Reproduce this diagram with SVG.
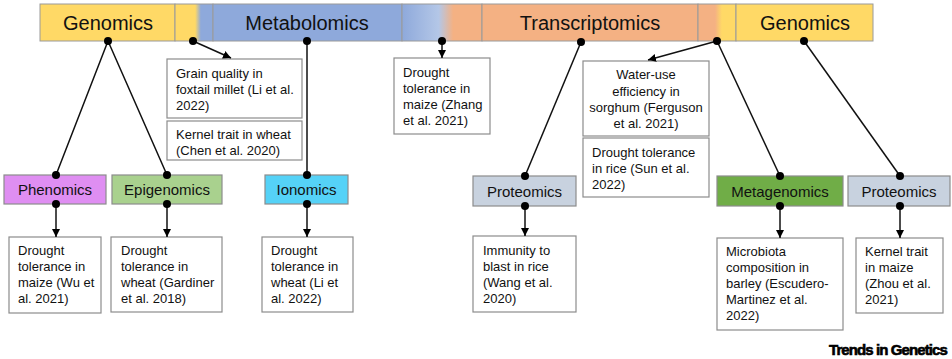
<svg xmlns="http://www.w3.org/2000/svg" width="952" height="359" viewBox="0 0 952 359">
<defs>
<style>
.bar{stroke:#9a9a9a;stroke-width:1}
.top{font-family:"Liberation Sans",Arial,sans-serif;font-size:20px;fill:#111;text-anchor:middle}
.hdr{font-family:"Liberation Sans",Arial,sans-serif;font-size:15px;fill:#111;text-anchor:middle}
.hbox{stroke:#8c8c8c;stroke-width:1.2}
.box{fill:#fff;stroke:#8c8c8c;stroke-width:1.2}
.t{font-family:"Liberation Sans",Arial,sans-serif;font-size:13px;fill:#111}
.c{text-anchor:middle}
.ln{stroke:#111;stroke-width:1.5;fill:none}
.dot{fill:#000}
</style>
<linearGradient id="g1" x1="0" y1="0" x2="1" y2="0">
<stop offset="0" stop-color="#FFD966"/><stop offset="0.53" stop-color="#FFD966"/><stop offset="0.68" stop-color="#8EA9DB"/><stop offset="1" stop-color="#8EA9DB"/>
</linearGradient>
<linearGradient id="g2" x1="0" y1="0" x2="1" y2="0">
<stop offset="0" stop-color="#8EA9DB"/><stop offset="0.46" stop-color="#B4C7E7"/><stop offset="0.64" stop-color="#F4B183"/><stop offset="1" stop-color="#F4B183"/>
</linearGradient>
<linearGradient id="g3" x1="0" y1="0" x2="1" y2="0">
<stop offset="0" stop-color="#F4B183"/><stop offset="0.45" stop-color="#F4B183"/><stop offset="0.63" stop-color="#FFD966"/><stop offset="1" stop-color="#FFD966"/>
</linearGradient>
<marker id="ar" markerWidth="8" markerHeight="8" refX="8" refY="4" orient="auto" markerUnits="userSpaceOnUse">
<path d="M0,0 L8,4 L0,8 z" fill="#000"/>
</marker>
</defs>

<g id="topbar">
<rect class="bar" x="40" y="4" width="135" height="37" fill="#FFD966"/>
<rect class="bar" x="175" y="4" width="38" height="37" fill="url(#g1)"/>
<rect class="bar" x="213" y="4" width="189" height="37" fill="#8EA9DB"/>
<rect class="bar" x="402" y="4" width="80" height="37" fill="url(#g2)"/>
<rect class="bar" x="482" y="4" width="216" height="37" fill="#F4B183"/>
<rect class="bar" x="698" y="4" width="38" height="37" fill="url(#g3)"/>
<rect class="bar" x="736" y="4" width="137" height="37" fill="#FFD966"/>
<text class="top" x="108" y="30">Genomics</text>
<text class="top" x="307" y="30">Metabolomics</text>
<text class="top" x="590" y="30">Transcriptomics</text>
<text class="top" x="805" y="30">Genomics</text>
</g>

<g id="phenomics"><rect class="hbox" x="4" y="175" width="102" height="29" fill="#DF8EF2"/><text class="hdr" x="55" y="195">Phenomics</text></g>
<g id="epigenomics"><rect class="hbox" x="112" y="175" width="110" height="29" fill="#A9D18E"/><text class="hdr" x="167" y="195">Epigenomics</text></g>
<g id="ionomics"><rect class="hbox" x="265" y="175" width="83" height="29" fill="#55D2F7"/><text class="hdr" x="306.5" y="195">Ionomics</text></g>
<g id="proteomics1"><rect class="hbox" x="473" y="176" width="103" height="30" fill="#C8D2DF"/><text class="hdr" x="524.5" y="196.5">Proteomics</text></g>
<g id="metagenomics"><rect class="hbox" x="717" y="176" width="126" height="30" fill="#70AD47"/><text class="hdr" x="780" y="196.5">Metagenomics</text></g>
<g id="proteomics2"><rect class="hbox" x="848" y="176" width="102" height="30" fill="#C8D2DF"/><text class="hdr" x="899" y="196.5">Proteomics</text></g>

<g id="grain"><rect class="box" x="167" y="59" width="135" height="59"/>
<text class="t" x="176" y="78">Grain quality in</text><text class="t" x="176" y="94">foxtail millet (Li et al.</text><text class="t" x="176" y="110">2022)</text></g>
<g id="kernelwheat"><rect class="box" x="167" y="121" width="135" height="39"/>
<text class="t" x="176" y="139">Kernel trait in wheat</text><text class="t" x="176" y="155">(Chen et al. 2020)</text></g>
<g id="zhang"><rect class="box" x="394" y="58" width="96" height="76"/>
<text class="t" x="403" y="77">Drought</text><text class="t" x="403" y="93">tolerance in</text><text class="t" x="403" y="109">maize (Zhang</text><text class="t" x="403" y="125">et al. 2021)</text></g>
<g id="wateruse"><rect class="box" x="583" y="61" width="126" height="75"/>
<text class="t c" x="646" y="79">Water-use</text><text class="t c" x="646" y="95.5">efficiency in</text><text class="t c" x="646" y="111.5">sorghum (Ferguson</text><text class="t c" x="646" y="127.5">et al. 2021)</text></g>
<g id="droughtrice"><rect class="box" x="583" y="138" width="126" height="59"/>
<text class="t" x="592" y="157">Drought tolerance</text><text class="t" x="592" y="173">in rice (Sun et al.</text><text class="t" x="592" y="189">2022)</text></g>

<g id="wu"><rect class="box" x="9" y="237" width="92" height="76"/>
<text class="t" x="18" y="255">Drought</text><text class="t" x="18" y="271">tolerance in</text><text class="t" x="18" y="287">maize (Wu et</text><text class="t" x="18" y="303">al. 2021)</text></g>
<g id="gardiner"><rect class="box" x="111" y="237" width="111" height="75"/>
<text class="t" x="121" y="255">Drought</text><text class="t" x="121" y="271">tolerance in</text><text class="t" x="121" y="287">wheat (Gardiner</text><text class="t" x="121" y="303">et al. 2018)</text></g>
<g id="li"><rect class="box" x="262" y="237" width="91" height="75"/>
<text class="t" x="271" y="255">Drought</text><text class="t" x="271" y="271">tolerance in</text><text class="t" x="271" y="287">wheat (Li et</text><text class="t" x="271" y="303">al. 2022)</text></g>
<g id="wang"><rect class="box" x="473" y="236" width="103" height="76"/>
<text class="t" x="483" y="255">Immunity to</text><text class="t" x="483" y="271">blast in rice</text><text class="t" x="483" y="287">(Wang et al.</text><text class="t" x="483" y="303">2020)</text></g>
<g id="escudero"><rect class="box" x="717" y="238" width="126" height="92"/>
<text class="t" x="726" y="256">Microbiota</text><text class="t" x="726" y="272">composition in</text><text class="t" x="726" y="288">barley (Escudero-</text><text class="t" x="726" y="304">Martinez et al.</text><text class="t" x="726" y="320">2022)</text></g>
<g id="zhou"><rect class="box" x="856" y="238" width="87" height="75"/>
<text class="t" x="865" y="256">Kernel trait</text><text class="t" x="865" y="272">in maize</text><text class="t" x="865" y="288">(Zhou et al.</text><text class="t" x="865" y="304">2021)</text></g>

<g id="connectors">
<path class="ln" d="M108,41 L56,175 M108,41 L167,175"/>
<path class="ln" d="M193,41 L231,58" marker-end="url(#ar)"/>
<path class="ln" d="M307,41 L307,175"/>
<path class="ln" d="M442,41 L442,58" marker-end="url(#ar)"/>
<path class="ln" d="M581,42 L525,176"/>
<path class="ln" d="M717,41 L648,60" marker-end="url(#ar)"/>
<path class="ln" d="M717,41 L780,176"/>
<path class="ln" d="M804,41 L900,176"/>
<path class="ln" d="M56,204 L56,237" marker-end="url(#ar)"/>
<path class="ln" d="M167,204 L167,237" marker-end="url(#ar)"/>
<path class="ln" d="M307,204 L307,237" marker-end="url(#ar)"/>
<path class="ln" d="M525,206 L525,236" marker-end="url(#ar)"/>
<path class="ln" d="M780,206 L780,238" marker-end="url(#ar)"/>
<path class="ln" d="M900,206 L900,238" marker-end="url(#ar)"/>
<g class="dot">
<circle cx="108" cy="41" r="4"/><circle cx="193" cy="41" r="4"/><circle cx="307" cy="41" r="4"/><circle cx="442" cy="41" r="4"/>
<circle cx="581" cy="42" r="4"/><circle cx="717" cy="41" r="4"/><circle cx="804" cy="41" r="4"/>
<circle cx="56" cy="175" r="4"/><circle cx="167" cy="175" r="4"/><circle cx="307" cy="175" r="4"/><circle cx="525" cy="176" r="4"/><circle cx="780" cy="176" r="4"/><circle cx="900" cy="176" r="4"/>
<circle cx="56" cy="204" r="4"/><circle cx="167" cy="204" r="4"/><circle cx="307" cy="204" r="4"/><circle cx="525" cy="206" r="4"/><circle cx="780" cy="206" r="4"/><circle cx="900" cy="206" r="4"/>
</g>
</g>

<text x="829" y="355" font-family="Liberation Sans,Arial,sans-serif" font-size="15" font-weight="bold" letter-spacing="-0.9" fill="#000" stroke="#000" stroke-width="0.6">Trends in Genetics</text>
</svg>
